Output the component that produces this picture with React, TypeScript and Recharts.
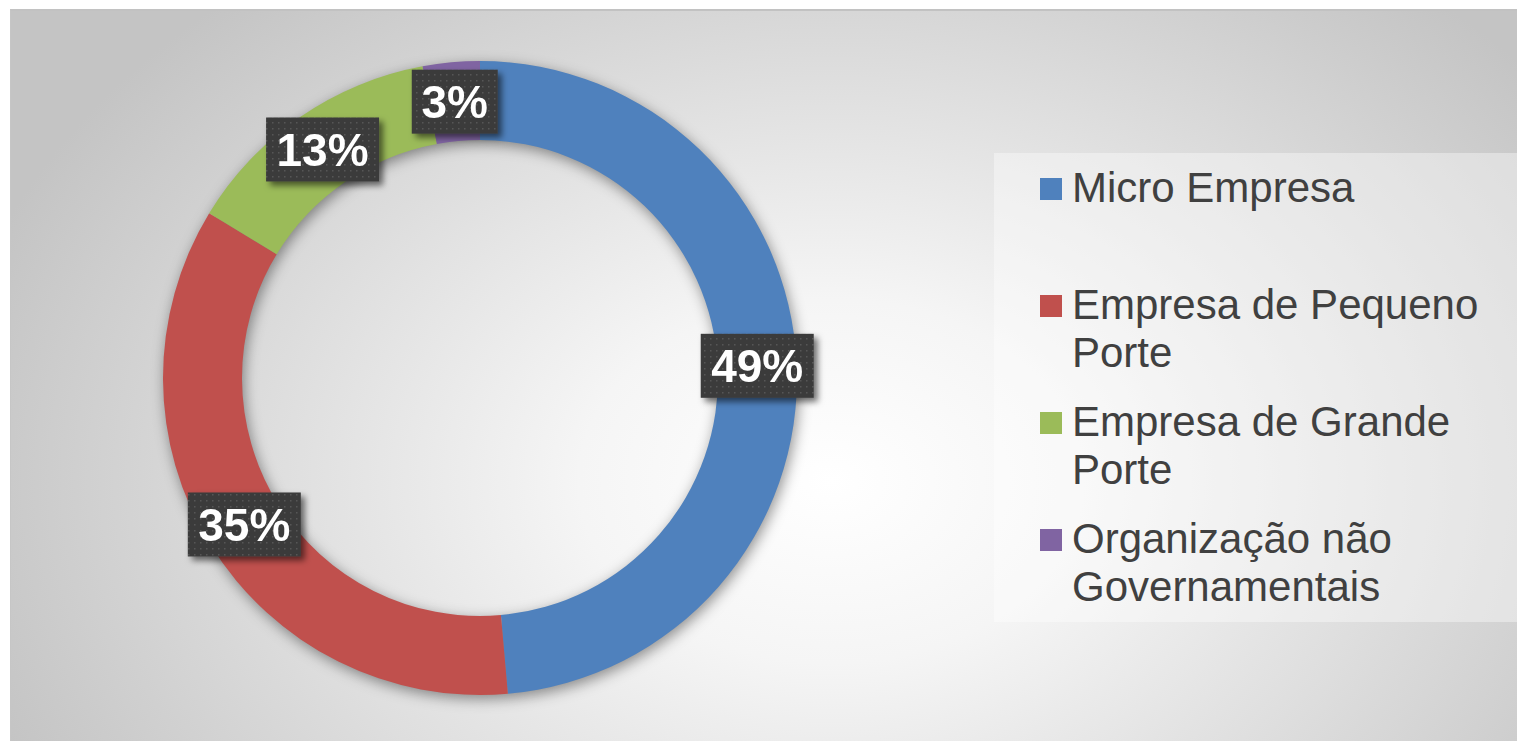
import { PieChart, Pie, Cell, Legend } from 'recharts'

const CATEGORIES = [
  'Micro Empresa',
  'Empresa de Pequeno Porte',
  'Empresa de Grande Porte',
  'Organização não Governamentais',
]
const SHARES = [48.6, 35.1, 13.4, 2.9]
const COLORS = ['#4F81BD', '#C0504D', '#9BBB59', '#8064A2']
const SHADOW_RING = [{ value: 1 }]

const FONT = '"Liberation Sans", Arial, Helvetica, sans-serif'
const RADIAN = Math.PI / 180

const data = CATEGORIES.map((name, i) => ({ name, value: SHARES[i] }))

function renderLabel(props: any) {
  const { cx, cy, midAngle, innerRadius, outerRadius, percent } = props
  const r = (innerRadius + outerRadius) / 2
  const x = cx + r * Math.cos(-midAngle * RADIAN)
  const y = cy + r * Math.sin(-midAngle * RADIAN)
  const text = `${Math.round(percent * 100)}%`
  const w = 32 + 27 * text.length
  const h = 64
  return (
    <g filter="url(#labelShadow)">
      <rect x={x - w / 2} y={y - h / 2} width={w} height={h} fill="url(#dotPattern)" />
      <text
        x={x}
        y={y + 16.5}
        textAnchor="middle"
        fill="#ffffff"
        fontFamily={FONT}
        fontWeight={700}
        fontSize={46}
      >
        {text}
      </text>
    </g>
  )
}

function LegendBox() {
  return (
    <div
      style={{
        width: '100%',
        height: '100%',
        background: 'rgba(255,255,255,0.38)',
        paddingTop: 11,
        boxSizing: 'border-box',
        fontFamily: FONT,
      }}
    >
      {CATEGORIES.map((name, i) => (
        <div key={name} style={{ height: 117, display: 'flex', alignItems: 'flex-start' }}>
          <span
            style={{
              width: 22,
              height: 22,
              background: COLORS[i],
              marginLeft: 46,
              marginTop: 14,
              flexShrink: 0,
            }}
          />
          <span style={{ marginLeft: 10, width: 430, fontSize: 42, lineHeight: '48px', color: '#404040' }}>
            {name}
          </span>
        </div>
      ))}
    </div>
  )
}

export default function App() {
  return (
    <div style={{ position: 'absolute', left: 0, top: 0, width: 1517, height: 741, background: '#ffffff', overflow: 'hidden' }}>
      <div
        style={{
          position: 'absolute',
          left: 10,
          top: 9,
          right: 0,
          bottom: 0,
          borderTop: '2px solid #c2c2c2',
          borderLeft: '1px solid #c6c6c6',
          background:
            'radial-gradient(ellipse 900px 650px at 820px 470px, #ffffff 0%, #f5f5f5 28%, #dedede 62%, #c4c4c4 100%)',
        }}
      />
      <svg width={0} height={0} style={{ position: 'absolute' }}>
        <defs>
          <pattern id="dotPattern" width={6} height={6} patternUnits="userSpaceOnUse">
            <rect width={6} height={6} fill="#3b3b3b" />
            <rect x={2} y={2} width={1.5} height={1.5} fill="#575757" />
          </pattern>
          <filter id="labelShadow" x="-20%" y="-20%" width="150%" height="160%">
            <feDropShadow dx={4} dy={4} stdDeviation={3} floodColor="#000" floodOpacity={0.55} />
          </filter>
          <filter id="ringBlur" x="-15%" y="-15%" width="130%" height="130%">
            <feOffset dx={2} dy={4} />
            <feGaussianBlur stdDeviation={7} />
          </filter>
        </defs>
      </svg>
      <div style={{ position: 'absolute', left: 0, top: 0 }}>
        <PieChart width={1517} height={741} margin={{ top: 0, right: 0, bottom: 0, left: 0 }}>
          <Pie
            data={SHADOW_RING}
            dataKey="value"
            cx={480}
            cy={378}
            innerRadius={238}
            outerRadius={317}
            startAngle={90}
            endAngle={-270}
            stroke="none"
            legendType="none"
            isAnimationActive={false}
          >
            <Cell fill="rgba(0,0,0,0.42)" filter="url(#ringBlur)" />
          </Pie>
          <Pie
            data={data}
            dataKey="value"
            nameKey="name"
            cx={480}
            cy={378}
            innerRadius={238}
            outerRadius={317}
            startAngle={90}
            endAngle={-270}
            stroke="none"
            label={renderLabel}
            labelLine={false}
            isAnimationActive={false}
          >
            {data.map((_, i) => (
              <Cell key={i} fill={COLORS[i]} />
            ))}
          </Pie>
          <Legend
            content={() => <LegendBox />}
            wrapperStyle={{ position: 'absolute', left: 994, top: 153, width: 523, height: 469 }}
          />
        </PieChart>
      </div>
    </div>
  )
}
